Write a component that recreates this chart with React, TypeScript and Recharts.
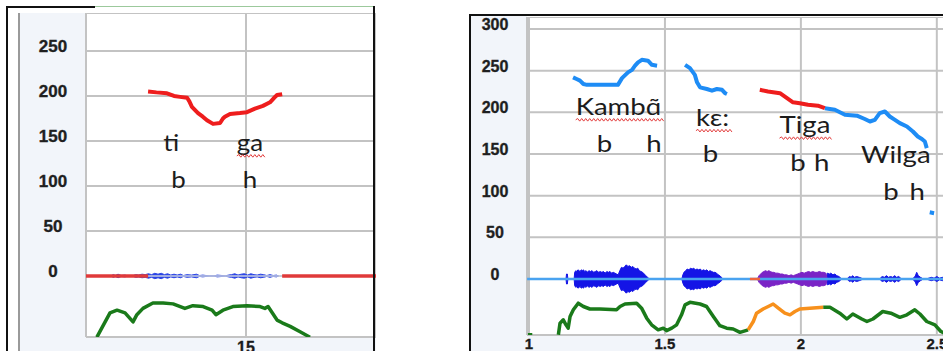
import React from 'react';
import { ComposedChart, Line, Area, Scatter, XAxis, YAxis, CartesianGrid } from 'recharts';

// ---------- left panel: "tiga" (time in s, pitch in Hz, intensity drawn below 0) ----------
const leftYTicks = [0, 50, 100, 150, 200, 250];
const leftXTicks = [15];

const leftPitch: [number, number][] = [
  [14.694, 205], [14.72, 204], [14.753, 203], [14.775, 200], [14.794, 199], [14.816, 198], [14.823, 194],
  [14.831, 188], [14.85, 181], [14.865, 177], [14.878, 173], [14.897, 169], [14.919, 170], [14.928, 175],
  [14.934, 177], [14.95, 180], [14.981, 181], [15.003, 182], [15.028, 186], [15.053, 189], [15.075, 193],
  [15.088, 198], [15.097, 201], [15.113, 202],
];

const leftIntensity: [number, number][] = [
  [14.534, -68], [14.575, -41], [14.597, -38], [14.622, -41], [14.647, -51], [14.659, -43],
  [14.678, -36], [14.709, -30], [14.741, -30], [14.772, -31], [14.809, -36], [14.834, -33],
  [14.866, -34], [14.894, -38], [14.906, -43], [14.928, -38], [14.959, -34], [15.003, -33],
  [15.044, -34], [15.059, -36], [15.069, -34], [15.097, -49], [15.113, -52], [15.138, -56],
  [15.169, -62], [15.2, -68],
];

// silence stretches on the zero line (before and after the word)
const leftSilenceA: [number, number][] = [[14.5, 0], [14.694, 0]];
const leftSilenceB: [number, number][] = [[15.113, 0], [15.41, 0]];
const leftVoiced: [number, number][] = [[14.694, 0], [15.113, 0]];

// waveform envelope (half amplitude)
const leftWave: [number, number][] = [
  [14.578, 0], [14.585, 1.5], [14.592, 0.5], [14.6, 2], [14.61, 0.5], [14.622, 1], [14.63, 0],
  [14.64, 0], [14.648, 0.5], [14.655, 1.5], [14.665, 1], [14.675, 2], [14.685, 1.5], [14.695, 2.5],
  [14.705, 1.5], [14.715, 3], [14.725, 2], [14.735, 3], [14.745, 1.5], [14.755, 2.5], [14.765, 1],
  [14.775, 2], [14.785, 1], [14.795, 2], [14.805, 0.5], [14.815, 1.5], [14.83, 1], [14.845, 2],
  [14.855, 0.5], [14.865, 1], [14.875, 0.5], [14.885, 0], [14.9, 0], [14.91, 1], [14.925, 0.5],
  [14.935, 0], [14.945, 1], [14.955, 1.5], [14.965, 2.5], [14.975, 1], [14.985, 2], [14.995, 2.5],
  [15.005, 1], [15.015, 2.5], [15.025, 1.5], [15.035, 1], [15.045, 2], [15.055, 1.5], [15.065, 0.5],
  [15.075, 1.5], [15.085, 0.5], [15.095, 1], [15.102, 0],
];

const leftWords = ['ti', 'ga', 'b', 'h'];
const leftWordPos: [number, number][] = [[14.766, 139], [15.0125, 139], [14.789, 98], [15.0125, 98]];
const leftWordWavy = [false, true, false, false];

// ---------- right panel: "Kambɑ̃ kɛ: Tiga Wilga" ----------
const rightYTicks = [0, 50, 100, 150, 200, 250, 300];
const rightXTicks = [1, 1.5, 2, 2.5];

const rightPitch1: [number, number][] = [
  [1.162, 242], [1.175, 240], [1.1875, 238], [1.2, 234], [1.213, 233], [1.25, 233], [1.29, 233], [1.327, 233],
  [1.342, 241], [1.364, 248], [1.379, 251], [1.39, 256], [1.401, 260], [1.415, 263], [1.4375, 262],
  [1.452, 257], [1.471, 256],
];
const rightPitch2: [number, number][] = [
  [1.574, 257], [1.592, 253], [1.61, 245], [1.618, 236], [1.629, 230], [1.654, 228], [1.673, 226],
  [1.691, 228], [1.71, 227], [1.721, 223], [1.728, 222],
];
const rightPitchTiga: [number, number][] = [
  [1.849, 227], [1.879, 225], [1.923, 223], [1.949, 217], [1.971, 212], [1.996, 211], [2.026, 209],
  [2.0625, 208], [2.088, 205],
];
const rightPitch3: [number, number][] = [
  [2.088, 205], [2.125, 203], [2.162, 197], [2.206, 196], [2.235, 192], [2.254, 189], [2.272, 191],
  [2.29, 199], [2.309, 201], [2.327, 195], [2.346, 191], [2.364, 187], [2.39, 183], [2.412, 177],
  [2.43, 171], [2.445, 168], [2.456, 165], [2.463, 157],
];
const rightPitch4: [number, number][] = [[2.474, 80], [2.49, 79]];

const rightIntensity1: [number, number][] = [
  [1.108, -67], [1.114, -53], [1.126, -49], [1.136, -55], [1.144, -59], [1.151, -45], [1.163, -37],
  [1.181, -29], [1.2, -33], [1.224, -36], [1.261, -36], [1.322, -37], [1.335, -33], [1.353, -30],
  [1.396, -29], [1.414, -35], [1.433, -47], [1.451, -55], [1.475, -61], [1.494, -59], [1.506, -62],
  [1.525, -59], [1.543, -55], [1.561, -43], [1.574, -31], [1.592, -28], [1.629, -30], [1.653, -33],
  [1.678, -45], [1.702, -56], [1.727, -59], [1.751, -60], [1.776, -64], [1.806, -61],
];
const rightIntensityTiga: [number, number][] = [
  [1.806, -61], [1.825, -51], [1.837, -41], [1.861, -36], [1.88, -33], [1.898, -30], [1.917, -35],
  [1.941, -41], [1.96, -43], [1.978, -39], [1.996, -36], [2.033, -35], [2.082, -34],
];
const rightIntensity2: [number, number][] = [
  [2.082, -34], [2.107, -34], [2.143, -41], [2.169, -48], [2.191, -42], [2.224, -48], [2.243, -51],
  [2.265, -48], [2.301, -39], [2.331, -41], [2.364, -46], [2.39, -43], [2.419, -37], [2.438, -42],
  [2.463, -51], [2.493, -55], [2.515, -63], [2.548, -68],
];
const rightIntensityStub: [number, number][] = [[0.996, -66], [1.012, -66]];

const rightBaseline: [number, number][] = [[0.993, 0], [2.6, 0]];
const rightBaselineTiga: [number, number][] = [[1.8125, 0], [1.85, 0]];

const rightWaveBlue: [number, number][] = [
  [1.136, 0], [1.138, 6], [1.141, 6], [1.143, 0],
  [1.166, 0], [1.168, 8], [1.172, 10], [1.176, 9], [1.18, 11], [1.184, 10], [1.188, 9], [1.192, 11],
  [1.196, 10], [1.2, 11], [1.205, 9], [1.21, 10], [1.215, 8], [1.22, 10], [1.226, 9], [1.232, 10],
  [1.238, 8], [1.244, 9], [1.25, 10], [1.256, 8], [1.262, 9], [1.268, 8], [1.274, 9], [1.28, 7],
  [1.286, 9], [1.292, 8], [1.298, 9], [1.304, 7], [1.31, 8], [1.316, 7], [1.322, 6], [1.328, 5],
  [1.334, 10], [1.34, 14], [1.346, 13], [1.352, 15], [1.358, 17], [1.364, 15], [1.37, 16], [1.376, 14],
  [1.382, 15], [1.388, 13], [1.394, 12], [1.4, 13], [1.406, 10], [1.412, 9], [1.418, 8], [1.424, 6],
  [1.43, 4], [1.436, 2], [1.44, 1], [1.442, 0],
  [1.562, 0], [1.566, 5], [1.57, 8], [1.576, 10], [1.582, 12], [1.588, 11], [1.594, 13], [1.6, 12],
  [1.606, 13], [1.612, 11], [1.618, 12], [1.624, 11], [1.63, 12], [1.636, 10], [1.642, 11], [1.648, 10],
  [1.654, 11], [1.66, 9], [1.666, 10], [1.672, 9], [1.678, 8], [1.684, 8], [1.69, 7], [1.696, 5],
  [1.702, 4], [1.708, 2], [1.712, 0],
  [2.095, 0], [2.097, 7], [2.105, 6], [2.11, 7], [2.118, 5], [2.125, 6], [2.132, 4], [2.14, 3], [2.15, 0],
  [2.17, 0], [2.175, 2], [2.18, 3], [2.185, 2], [2.19, 4], [2.197, 2], [2.205, 3], [2.215, 2], [2.23, 0],
  [2.29, 0], [2.295, 2], [2.3, 3], [2.307, 2], [2.315, 4], [2.322, 2], [2.33, 3], [2.338, 2], [2.345, 4],
  [2.352, 2], [2.36, 3], [2.37, 0],
  [2.41, 0], [2.416, 2], [2.42, 3], [2.426, 8], [2.432, 4], [2.44, 2], [2.45, 0],
  [2.46, 0], [2.47, 1], [2.48, 2], [2.49, 1], [2.5, 3], [2.51, 1], [2.52, 2], [2.54, 1], [2.56, 0],
];
const rightWavePurple: [number, number][] = [
  [1.84, 0], [1.846, 4], [1.852, 6], [1.858, 8], [1.864, 9], [1.87, 10], [1.876, 9], [1.882, 10],
  [1.888, 9], [1.894, 8], [1.9, 8], [1.908, 7], [1.916, 7], [1.924, 6], [1.932, 6], [1.94, 5],
  [1.948, 5], [1.956, 4], [1.964, 5], [1.972, 4], [1.98, 5], [1.988, 6], [1.996, 7], [2.004, 8],
  [2.012, 7], [2.02, 8], [2.028, 9], [2.036, 8], [2.044, 9], [2.052, 8], [2.06, 8], [2.068, 9],
  [2.076, 8], [2.084, 8], [2.092, 7], [2.097, 0],
];

const rightWords = ['Kambɑ̃', 'b', 'h', 'kɛ:', 'b', 'Tiga', 'b', 'h', 'Wilga', 'b', 'h'];
const rightWordPos: [number, number][] = [
  [1.329, 197], [1.278, 152], [1.46, 152], [1.675, 184], [1.667, 141], [2.015, 175], [1.989, 130],
  [2.077, 130], [2.349, 139], [2.331, 95], [2.428, 95],
];
const rightWordWavy = [true, false, false, true, false, true, false, false, false, false, false];

// ---------- helpers ----------
const pts = (a: [number, number][]) => a.map(([t, v]) => ({ t, v }));
const env = (a: [number, number][]) => a.map(([t, v]) => ({ t, r: [-v, v] }));
const words = (txt: string[], pos: [number, number][], wavy: boolean[]) =>
  txt.map((text, i) => ({ t: pos[i][0], v: pos[i][1], text, wavy: wavy[i] }));

const WORD_FONT = "Lato, 'Open Sans', sans-serif";
const AXIS_FONT = "'Liberation Sans', Arial, sans-serif";

let ctx: CanvasRenderingContext2D | null = null;
const textWidth = (s: string, size: number) => {
  if (!ctx) ctx = document.createElement('canvas').getContext('2d');
  if (!ctx) return s.length * size * 0.5;
  ctx.font = `${size}px Lato`;
  return ctx.measureText(s).width;
};

const zigzag = (x0: number, y: number, w: number) => {
  let d = `M${x0},${y}`;
  for (let x = x0 + 2, k = 1; x <= x0 + w; x += 2, k++) d += ` L${x},${y + (k % 2 ? -1.3 : 1.3)}`;
  return d;
};

const wordShape = (stretch: number, size: number) => (p: any) => {
  const { cx, cy, payload } = p;
  if (cx == null || cy == null) return <g />;
  const w = textWidth(payload.text, size) * stretch;
  return (
    <g>
      <text
        transform={`translate(${cx},${cy}) scale(${stretch},1)`}
        textAnchor="middle"
        fontFamily={WORD_FONT}
        fontSize={size}
        fill="#1c1c1c"
      >
        {payload.text}
      </text>
      {payload.wavy && (
        <path d={zigzag(cx - w / 2, cy + 5, w + 3)} stroke="#e23b3b" strokeWidth={1} fill="none" />
      )}
    </g>
  );
};

const yTick = (cx: number, size: number) => (p: any) => (
  <text x={cx} y={p.y + 1} textAnchor="middle" fontFamily={AXIS_FONT} fontWeight={700} fontSize={size}
    fill="#1f1f1f" stroke="#1f1f1f" strokeWidth={0.35}>
    {p.payload.value}
  </text>
);
const xTick = (baseline: number, size: number) => (p: any) => (
  <text x={p.x} y={baseline} textAnchor="middle" fontFamily={AXIS_FONT} fontWeight={700} fontSize={size}
    fill="#1a1a1a" stroke="#1a1a1a" strokeWidth={0.3}>
    {p.payload.value}
  </text>
);

const GRID = '#c3c3c3';
const PANEL_BG = '#f2f5fa';
const GREEN = '#1a7a1a';
const BLUE_PITCH = '#1e8cf5';
const RED = '#ee1d1d';

const line = (data: any[], stroke: string, w: number) => (
  <Line data={data} dataKey="v" type="linear" stroke={stroke} strokeWidth={w} dot={false}
    activeDot={false} isAnimationActive={false} connectNulls={false} strokeLinejoin="round" />
);
const area = (data: any[], fill: string) => (
  <Area data={data} dataKey="r" type="linear" stroke={fill} strokeWidth={1} fill={fill}
    fillOpacity={1} dot={false} activeDot={false} isAnimationActive={false} />
);

const box = (l: number, t: number, w: number, h: number, bg: string) => (
  <div style={{ position: 'absolute', left: l, top: t, width: w, height: h, background: bg }} />
);

export default function App() {
  return (
    <div style={{ position: 'fixed', left: 0, top: 0, width: 943, height: 351, overflow: 'hidden', background: '#fff' }}>
      {/* left panel backgrounds */}
      {box(20, 13, 66, 338, PANEL_BG)}
      {box(86, 337, 290, 14, PANEL_BG)}
      {box(18, 13, 2, 338, '#9a9a9a')}
      <div style={{ position: 'absolute', left: 20, top: 13 }}>
        <ComposedChart width={356} height={338} margin={{ top: 0, right: 0, bottom: 0, left: 0 }}>
          <CartesianGrid stroke={GRID} strokeWidth={2} />
          <XAxis dataKey="t" type="number" domain={[14.5, 15.40625]} ticks={leftXTicks} allowDataOverflow
            height={14} axisLine={false} tickLine={false} tick={xTick(340, 16)} interval={0} />
          <YAxis type="number" domain={[-67.8, 292.2]} ticks={leftYTicks} allowDataOverflow width={66}
            axisLine={false} tickLine={false} tick={yTick(33, 17)} interval={0} />
          {line(pts(leftVoiced), '#c9cfe0', 1.5)}
          {line(pts(leftSilenceA), '#e03a3a', 3.5)}
          {line(pts(leftSilenceB), '#e03a3a', 3.5)}
          {area(env(leftWave), '#2a44e6')}
          {line(pts(leftPitch), RED, 4)}
          {line(pts(leftIntensity), GREEN, 3.5)}
          <Scatter data={words(leftWords, leftWordPos, leftWordWavy)} dataKey="v" isAnimationActive={false}
            shape={wordShape(1.08, 24)} />
        </ComposedChart>
      </div>
      {/* left frame */}
      {box(6, 6, 89, 2, '#111')}
      {box(95, 6, 280, 1, '#9cc99c')}
      {box(6, 6, 2, 345, '#111')}
      {box(373, 6, 2, 345, '#111')}

      {/* right panel backgrounds */}
      {box(471, 16, 56, 335, PANEL_BG)}
      {box(527, 335, 416, 16, PANEL_BG)}
      <div style={{ position: 'absolute', left: 471, top: 17 }}>
        <ComposedChart width={493} height={334} margin={{ top: 0, right: 0, bottom: 0, left: 0 }}>
          <CartesianGrid stroke={GRID} strokeWidth={2} />
          <XAxis dataKey="t" type="number" domain={[0.9926, 2.6]} ticks={rightXTicks} allowDataOverflow
            height={16} axisLine={false} tickLine={false} tick={xTick(332, 15)} interval={0} />
          <YAxis type="number" domain={[-67.2, 314.4]} ticks={rightYTicks} allowDataOverflow width={56}
            axisLine={false} tickLine={false} tick={yTick(24, 16)} interval={0} />
          {line(pts(rightBaseline), '#4aa3f0', 2.5)}
          {line(pts(rightBaselineTiga), '#f0643c', 2.5)}
          {area(env(rightWaveBlue), '#1414e6')}
          {area(env(rightWavePurple), '#7a24c6')}
          {line(pts(rightPitch1), BLUE_PITCH, 4)}
          {line(pts(rightPitch2), BLUE_PITCH, 4)}
          {line(pts(rightPitch3), BLUE_PITCH, 4)}
          {line(pts(rightPitch4), BLUE_PITCH, 4)}
          {line(pts(rightPitchTiga), RED, 4)}
          {line(pts(rightIntensityStub), GREEN, 2)}
          {line(pts(rightIntensity1), GREEN, 3.5)}
          {line(pts(rightIntensity2), GREEN, 3.5)}
          {line(pts(rightIntensityTiga), '#f7901c', 3.5)}
          <Scatter data={words(rightWords, rightWordPos, rightWordWavy)} dataKey="v" isAnimationActive={false}
            shape={wordShape(1.15, 24)} />
        </ComposedChart>
      </div>
      {/* right frame */}
      {box(469, 14, 474, 2, '#111')}
      {box(469, 14, 2, 337, '#111')}
    </div>
  );
}
